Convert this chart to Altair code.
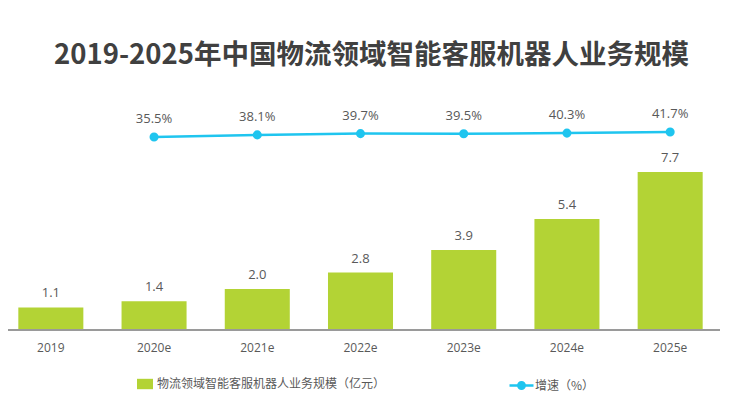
import altair as alt
import pandas as pd

years = ["2019", "2020e", "2021e", "2022e", "2023e", "2024e", "2025e"]
market_size = [1.1, 1.4, 2.0, 2.8, 3.9, 5.4, 7.7]
growth_years = ["2020e", "2021e", "2022e", "2023e", "2024e", "2025e"]
growth_rate = [35.5, 38.1, 39.7, 39.5, 40.3, 41.7]
bar_series = "物流领域智能客服机器人业务规模（亿元）"
line_series = "增速（%）"
title_text = "2019-2025年中国物流领域智能客服机器人业务规模"

GREEN = "#b3d335"
CYAN = "#1fc5ef"
TXT = "#595959"
AXIS = "#9a9a9a"
FONT = "Open Sans, Noto Sans CJK SC"
CJK = "Noto Sans CJK SC"

bar_df = pd.DataFrame({"year": years, "value": market_size, "series": [bar_series] * len(years)})
line_df = pd.DataFrame({"year": growth_years, "rate": growth_rate, "series": [line_series] * len(growth_years)})

W, H = 705, 230

x = alt.X(
    "year:N",
    sort=years,
    scale=alt.Scale(domain=years, paddingInner=0.37, paddingOuter=0.1),
    axis=alt.Axis(
        title=None, labelAngle=0, labelFontSize=12, labelColor=TXT, labelFont=FONT,
        labelPadding=12, ticks=False, domain=False, grid=False,
    ),
)
y_bar = alt.Y("value:Q", scale=alt.Scale(domain=[0, 11.2], nice=False, zero=True), axis=None)
y_line = alt.Y("rate:Q", scale=alt.Scale(domain=[-204, 81.4], nice=False, zero=False), axis=None)

bars = alt.Chart(bar_df).mark_bar(color=GREEN).encode(
    x=x,
    y=y_bar,
    color=alt.Color(
        "series:N",
        scale=alt.Scale(range=[GREEN]),
        legend=alt.Legend(
            title=None, orient="none", legendX=129, legendY=276,
            symbolType="M-1,-0.65H1V0.65H-1Z", symbolSize=256, symbolStrokeWidth=0,
            labelFont=CJK, labelFontSize=12, labelColor=TXT, labelOffset=4, labelLimit=400,
        ),
    ),
)
bar_text = alt.Chart(bar_df).mark_text(dy=-14, fontSize=13, color=TXT, font=FONT).encode(
    x=x, y=y_bar, text=alt.Text("value:Q", format=".1f")
)
baseline = alt.Chart(bar_df).mark_rule(color=AXIS, strokeWidth=1.5).encode(
    x=alt.value(-8), x2=alt.value(W + 7), y=alt.value(H)
)

line = alt.Chart(line_df).mark_line(
    strokeWidth=2.5, color=CYAN,
    point=alt.OverlayMarkDef(filled=True, size=50, color=CYAN),
).encode(
    x=x,
    y=y_line,
    stroke=alt.Stroke(
        "series:N",
        scale=alt.Scale(range=[CYAN]),
        legend=alt.Legend(
            title=None, orient="none", legendX=504, legendY=276,
            symbolType="M-1.5,0H1.5M-0.4,0A0.4,0.4,0,1,0,0.4,0A0.4,0.4,0,1,0,-0.4,0Z",
            symbolSize=256, symbolStrokeWidth=2.5, symbolFillColor=CYAN, symbolStrokeColor=CYAN,
            labelFont=CJK, labelFontSize=12, labelColor=TXT, labelOffset=4, labelLimit=400,
        ),
    ),
)
line_text = alt.Chart(line_df).transform_calculate(
    label="format(datum.rate, '.1f') + '%'"
).mark_text(dy=-18, fontSize=13, color=TXT, font=FONT).encode(
    x=x, y=y_line, text="label:N"
)

chart = alt.layer(
    alt.layer(bars, bar_text, baseline),
    alt.layer(line, line_text),
).resolve_scale(y="independent").properties(
    width=W,
    height=H,
    padding={"top": 92, "left": 0, "right": 22, "bottom": 65},
    autosize=alt.AutoSizeParams(type="none"),
    title=alt.TitleParams(
        text=title_text, fontSize=27.5, fontWeight="bold", color="#404040", font=CJK,
        anchor="middle", offset=31, dx=11,
    ),
).configure_view(stroke=None)

chart.save("out.html", embed_options={"renderer": "svg", "actions": False})
